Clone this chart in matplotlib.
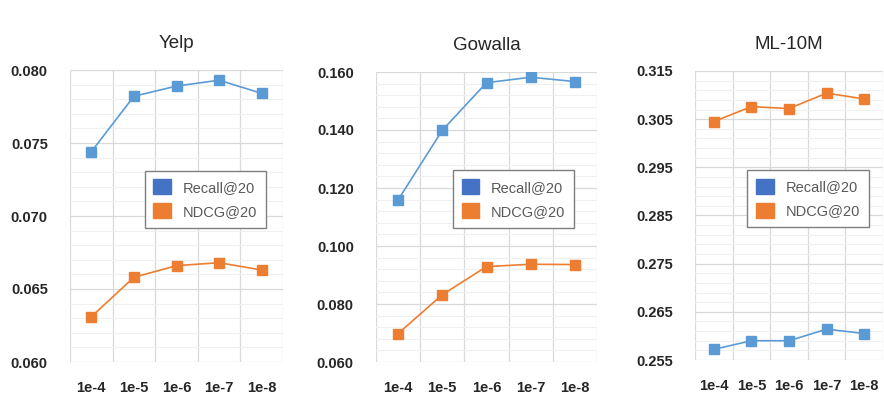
import matplotlib
matplotlib.use("Agg")
import matplotlib.pyplot as plt
from matplotlib.patches import Patch
from matplotlib.ticker import FixedLocator

categories = ["1e-4", "1e-5", "1e-6", "1e-7", "1e-8"]

yelp_recall = [0.0744, 0.0782, 0.0789, 0.0793, 0.0784]
yelp_ndcg = [0.0631, 0.0658, 0.0666, 0.0668, 0.0663]
gowalla_recall = [0.1159, 0.1399, 0.1563, 0.1582, 0.1567]
gowalla_ndcg = [0.0698, 0.0832, 0.0929, 0.0937, 0.0936]
ml_recall = [0.2572, 0.2590, 0.2590, 0.2614, 0.2605]
ml_ndcg = [0.3045, 0.3076, 0.3072, 0.3104, 0.3092]

titles = ["Yelp", "Gowalla", "ML-10M"]
ylims = [(0.060, 0.080), (0.060, 0.160), (0.255, 0.315)]
majors = [0.005, 0.020, 0.010]
minors = [0.001, 0.004, 0.002]

line_blue = "#5B9BD5"
line_orange = "#ED7D31"
leg_blue = "#4472C4"
leg_orange = "#ED7D31"

plt.rcParams["font.family"] = ["Liberation Sans", "DejaVu Sans"]

fig = plt.figure(figsize=(8.84, 3.96), dpi=100)
W, H = 884, 396
boxes = [(70, 70, 283, 362), (376, 72, 597, 362), (695, 71, 883, 360)]
legend_centers = [(0.634, 0.558), (0.622, 0.562), (0.601, 0.559)]
data = [(yelp_recall, yelp_ndcg), (gowalla_recall, gowalla_ndcg), (ml_recall, ml_ndcg)]

for i in range(3):
    x0, y0, x1, y1 = boxes[i]
    ax = fig.add_axes([x0 / W, 1 - y1 / H, (x1 - x0) / W, (y1 - y0) / H])
    rec, nd = data[i]
    xs = list(range(len(categories)))
    ax.plot(xs, rec, color=line_blue, lw=1.2, marker="s", ms=7.5, zorder=3)
    ax.plot(xs, nd, color=line_orange, lw=1.2, marker="s", ms=7.5, zorder=3)
    ax.set_xlim(-0.5, len(categories) - 0.5)
    lo, hi = ylims[i]
    ax.set_ylim(lo, hi)
    ax.set_xticks(xs)
    ax.set_xticklabels(categories)
    ax.set_xticks([k - 0.5 for k in range(len(categories) + 1)], minor=True)
    nmaj = int(round((hi - lo) / majors[i]))
    yt = [lo + k * majors[i] for k in range(nmaj + 1)]
    nmin = int(round((hi - lo) / minors[i]))
    ax.yaxis.set_minor_locator(FixedLocator([lo + k * minors[i] for k in range(nmin + 1)]))
    ax.set_yticks(yt)
    ax.set_yticklabels(["{:.3f}".format(v) for v in yt])
    ax.grid(True, which="minor", axis="y", color="#F0F0F0", lw=0.8, zorder=0)
    ax.grid(True, which="major", axis="y", color="#D9D9D9", lw=0.9, zorder=1)
    ax.grid(True, which="minor", axis="x", color="#D9D9D9", lw=0.9, zorder=1)
    ax.tick_params(which="both", length=0)
    ax.tick_params(axis="y", pad=16, labelsize=10.5, labelcolor="#262626")
    ax.tick_params(axis="x", pad=14, labelsize=10.5, labelcolor="#262626")
    for lab in ax.get_yticklabels() + ax.get_xticklabels():
        lab.set_fontweight("bold")
    for s in ax.spines.values():
        s.set_visible(False)
    ax.set_title(titles[i], fontsize=13.5, color="#262626", pad=16)
    handles = [Patch(facecolor=leg_blue, edgecolor=leg_blue), Patch(facecolor=leg_orange, edgecolor=leg_orange)]
    leg = ax.legend(handles, ["Recall@20", "NDCG@20"], loc="center",
                    bbox_to_anchor=legend_centers[i], fontsize=10.5,
                    handlelength=1.2, handleheight=1.2, handletextpad=0.8,
                    labelspacing=0.6, borderpad=0.6, fancybox=False,
                    framealpha=1, edgecolor="#7F7F7F", labelcolor="#595959")
    leg.get_frame().set_linewidth(1.0)
    leg.set_zorder(5)

fig.savefig("out.png", dpi=100)
